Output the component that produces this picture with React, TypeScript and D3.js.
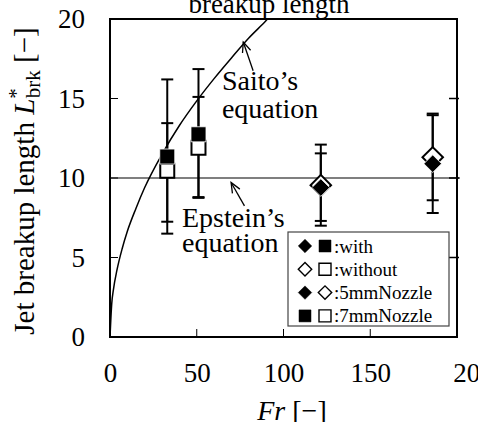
import React, { useEffect, useRef } from 'react';
import * as d3 from 'd3';

// axis ticks
const xTickValues = [0, 50, 100, 150, 200];
const yTickValues = [0, 5, 10, 15, 20];
const innerTickX = [50, 100, 150];
const innerTickY = [5, 10, 15];

// 7mm nozzle (squares)
const fr7 = [33, 51];
const with7 = [11.35, 12.75];
const with7Hi = [16.2, 16.85];
const with7Lo = [6.5, 8.8];
const without7 = [10.45, 11.9];
const without7Hi = [13.45, 15.1];
const without7Lo = [7.25, 8.75];

// 5mm nozzle (diamonds)
const fr5 = [121.5, 186];
const with5 = [9.4, 10.9];
const with5Hi = [12.1, 14.05];
const with5Lo = [7.0, 7.8];
const without5 = [9.55, 11.3];
const without5Hi = [11.55, 13.95];
const without5Lo = [7.3, 8.6];

// Saito's equation curve
const saitoFr = [0, 1, 2, 4, 7, 10, 15, 20, 30, 40, 50, 60, 70, 80, 90, 95];
const saitoL = [0, 2.1, 3.0, 4.2, 5.55, 6.65, 8.1, 9.4, 11.5, 13.3, 14.85, 16.25, 17.55, 18.8, 19.9, 20.5];

// Epstein's equation
const epsteinL = 10;

const legendLabels = [':with', ':without', ':5mmNozzle', ':7mmNozzle'];

const FONT = '"Liberation Serif", "Times New Roman", serif';

const App = () => {
  const ref = useRef<SVGSVGElement>(null);

  useEffect(() => {
    if (!ref.current) return;
    const svg = d3.select(ref.current);
    svg.selectAll('*').remove();

    const width = 478;
    const height = 422;
    const margin = { top: 19, right: 21, bottom: 85, left: 110 };

    const x = d3.scaleLinear().domain([0, 200]).range([margin.left, width - margin.right]);
    const y = d3.scaleLinear().domain([0, 20]).range([height - margin.bottom, margin.top]);

    svg.append('defs').append('clipPath').attr('id', 'plotclip')
      .append('rect')
      .attr('x', x(0)).attr('y', y(20))
      .attr('width', x(200) - x(0)).attr('height', y(0) - y(20));

    // title (clipped at top)
    svg.append('text')
      .attr('x', 269).attr('y', 13)
      .attr('text-anchor', 'middle')
      .attr('font-family', FONT).attr('font-size', 27)
      .text('breakup length');

    // axes
    const gx = svg.append('g')
      .attr('transform', `translate(0,${y(0)})`)
      .call(d3.axisBottom(x).tickValues(xTickValues).tickSizeInner(0).tickSizeOuter(0).tickPadding(26));
    gx.select('.domain').remove();
    gx.attr('font-family', FONT).attr('font-size', 27);
    // last label sits off to the right, as in the source
    gx.selectAll<SVGTextElement, number>('text').attr('dx', (d) => (d === 200 ? 16 : 0));

    const gy = svg.append('g')
      .attr('transform', `translate(${x(0)},0)`)
      .call(d3.axisLeft(y).tickValues(yTickValues).tickSizeInner(0).tickSizeOuter(0).tickPadding(25));
    gy.select('.domain').remove();
    gy.attr('font-family', FONT).attr('font-size', 27);

    const tickLen = 8;
    svg.append('g').selectAll('line')
      .data(innerTickX).enter().append('line')
      .attr('x1', (d) => x(d)).attr('x2', (d) => x(d))
      .attr('y1', y(0)).attr('y2', y(0) - tickLen)
      .attr('stroke', '#000').attr('stroke-width', 1);
    svg.append('g').selectAll('line')
      .data(innerTickY).enter().append('line')
      .attr('x1', x(0)).attr('x2', x(0) + tickLen)
      .attr('y1', (d) => y(d)).attr('y2', (d) => y(d))
      .attr('stroke', '#000').attr('stroke-width', 1);
    svg.append('g').selectAll('line')
      .data(innerTickY).enter().append('line')
      .attr('x1', x(200) + 2).attr('x2', x(200) - tickLen)
      .attr('y1', (d) => y(d)).attr('y2', (d) => y(d))
      .attr('stroke', '#000').attr('stroke-width', 1.5);

    // Epstein's equation
    svg.append('line')
      .attr('x1', x(0)).attr('x2', x(200) + 3)
      .attr('y1', y(epsteinL)).attr('y2', y(epsteinL))
      .attr('stroke', '#000').attr('stroke-width', 1.2);

    // Saito's equation
    const line = d3.line<number>()
      .x((d) => x(d))
      .y((_, i) => y(saitoL[i]))
      .curve(d3.curveMonotoneX);
    svg.append('path')
      .attr('d', line(saitoFr))
      .attr('clip-path', 'url(#plotclip)')
      .attr('fill', 'none').attr('stroke', '#000').attr('stroke-width', 1.5);

    // frame
    svg.append('rect')
      .attr('x', x(0)).attr('y', y(20))
      .attr('width', x(200) - x(0)).attr('height', y(0) - y(20))
      .attr('fill', 'none').attr('stroke', '#000').attr('stroke-width', 2);

    // error bars
    const cap = 6;
    const drawErr = (fr: number[], hi: number[], lo: number[]) => {
      const g = svg.append('g').attr('stroke', '#000').attr('stroke-width', 2);
      fr.forEach((f, i) => {
        g.append('line').attr('x1', x(f)).attr('x2', x(f)).attr('y1', y(hi[i])).attr('y2', y(lo[i]));
        g.append('line').attr('x1', x(f) - cap).attr('x2', x(f) + cap).attr('y1', y(hi[i])).attr('y2', y(hi[i]));
        g.append('line').attr('x1', x(f) - cap).attr('x2', x(f) + cap).attr('y1', y(lo[i])).attr('y2', y(lo[i]));
      });
    };
    drawErr(fr7, with7Hi, with7Lo);
    drawErr(fr7, without7Hi, without7Lo);
    drawErr(fr5, with5Hi, with5Lo);
    drawErr(fr5, without5Hi, without5Lo);

    // markers
    const sq = (s: number) => d3.symbol(d3.symbolSquare, s * s)();
    const drawMarks = (fr: number[], vals: number[], side: number, rot: number, filled: boolean) => {
      svg.append('g').selectAll('path')
        .data(vals).enter().append('path')
        .attr('d', sq(side))
        .attr('transform', (d, i) => `translate(${x(fr[i])},${y(d)}) rotate(${rot})`)
        .attr('fill', filled ? '#000' : '#fff')
        .attr('stroke', filled ? '#fff' : '#000')
        .attr('stroke-width', filled ? 0.8 : 2);
    };
    drawMarks(fr7, without7, 14, 0, false);
    drawMarks(fr7, with7, 15, 0, true);
    drawMarks(fr5, without5, 14.5, 45, false);
    drawMarks(fr5, with5, 12.5, 45, true);

    // annotations
    const arrow = (fx: number, fy: number, tx: number, ty: number) => {
      const x1 = x(fx), y1 = y(fy), x2 = x(tx), y2 = y(ty);
      const a = Math.atan2(y1 - y2, x1 - x2);
      const len = 11, spread = 0.4;
      const g = svg.append('g').attr('stroke', '#000').attr('stroke-width', 1.3).attr('fill', 'none');
      g.append('line').attr('x1', x1).attr('y1', y1).attr('x2', x2).attr('y2', y2);
      g.append('path').attr('d', `M${x2 + len * Math.cos(a + spread)},${y2 + len * Math.sin(a + spread)}L${x2},${y2}L${x2 + len * Math.cos(a - spread)},${y2 + len * Math.sin(a - spread)}`);
    };
    arrow(82.5, 16.75, 76.8, 18.55);
    arrow(77.5, 8.25, 69.8, 9.72);

    const note = (fr: number, lines: string[], ls: number[]) => {
      const t = svg.append('text').attr('font-family', FONT).attr('font-size', 28);
      lines.forEach((s, i) => {
        t.append('tspan').attr('x', x(fr)).attr('y', y(ls[i])).text(s);
      });
    };
    note(64.5, ['Saito\u2019s', 'equation'], [15.53, 13.77]);
    note(41.5, ['Epstein\u2019s', 'equation'], [6.92, 5.35]);

    // legend
    const lg = svg.append('g').attr('transform', 'translate(288,232)');
    lg.append('rect').attr('width', 161).attr('height', 94)
      .attr('fill', '#fff').attr('stroke', '#444').attr('stroke-width', 1.2);
    const rowY = (i: number) => 14 + i * 23.3;
    const legendMarks = [
      [['d', true], ['s', true]],
      [['d', false], ['s', false]],
      [['d', true], ['d', false]],
      [['s', true], ['s', false]],
    ] as [string, boolean][][];
    legendMarks.forEach((row, i) => {
      row.forEach(([shape, filled], j) => {
        const side = shape === 'd' ? 9.5 : 12;
        lg.append('path')
          .attr('d', sq(side))
          .attr('transform', `translate(${17 + j * 20},${rowY(i)}) rotate(${shape === 'd' ? 45 : 0})`)
          .attr('fill', filled ? '#000' : '#fff')
          .attr('stroke', '#000').attr('stroke-width', filled ? 0.5 : 1.4);
      });
      lg.append('text')
        .attr('x', 46).attr('y', rowY(i) + 6.5)
        .attr('font-family', FONT).attr('font-size', 19)
        .text(legendLabels[i]);
    });

    // axis titles
    const xl = svg.append('text')
      .attr('x', 292).attr('y', 420)
      .attr('text-anchor', 'middle')
      .attr('font-family', FONT).attr('font-size', 28);
    xl.append('tspan').attr('font-style', 'italic').text('Fr');
    xl.append('tspan').text(' [\u2212]');

    const yl = svg.append('text')
      .attr('transform', 'translate(34,181) rotate(-90)')
      .attr('text-anchor', 'middle')
      .attr('font-family', FONT).attr('font-size', 29);
    yl.append('tspan').text('Jet breakup length ');
    yl.append('tspan').attr('font-style', 'italic').text('L');
    yl.append('tspan').attr('font-size', 21).attr('dy', -11).text('*');
    yl.append('tspan').attr('font-size', 21).attr('dx', -10).attr('dy', 17).text('brk');
    yl.append('tspan').attr('dy', -6).text(' [\u2212]');
  }, []);

  return (
    <svg
      ref={ref}
      width={478}
      height={422}
      style={{ position: 'absolute', left: 0, top: 0, background: '#fff' }}
    />
  );
};

export default App;
